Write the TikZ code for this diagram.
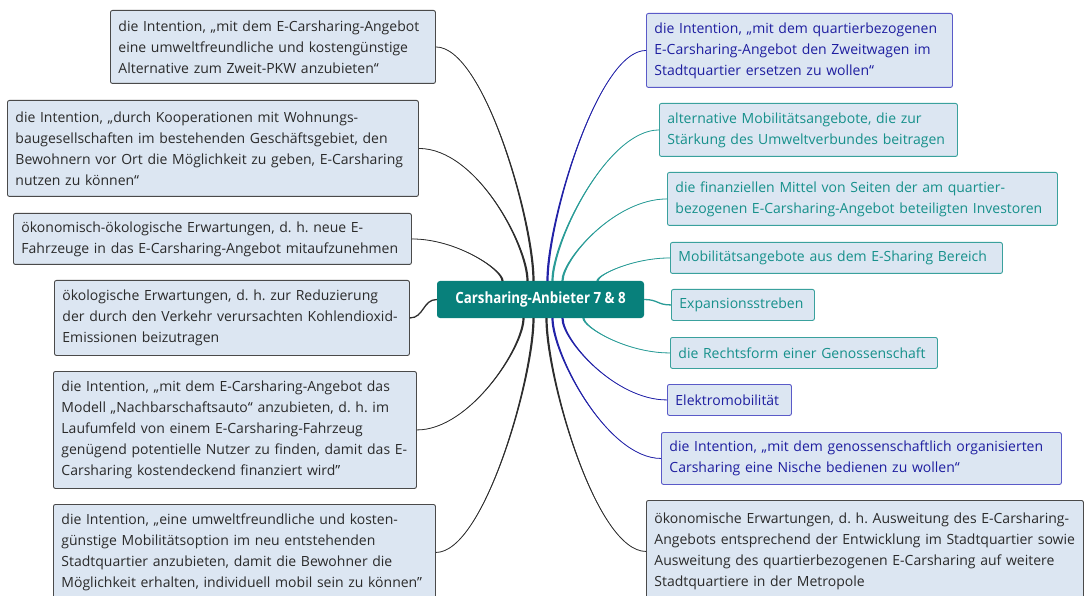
\documentclass[tikz,border=0pt]{standalone}
\usepackage{fontspec}
\usepackage{graphicx}
\setmainfont{Open Sans}
\frenchspacing
\hyphenpenalty=10000
\exhyphenpenalty=10000
\definecolor{boxfill}{HTML}{DCE6F2}
\definecolor{grayline}{HTML}{4A4A4A}
\definecolor{graytext}{HTML}{2A2A2A}
\definecolor{tealline}{HTML}{3AA19D}
\definecolor{tealtext}{HTML}{16908B}
\definecolor{blueline}{HTML}{5A5AC8}
\definecolor{bluetext}{HTML}{1E1EA0}
\definecolor{hubfill}{HTML}{08807B}
\definecolor{grayconn}{HTML}{2E2E2E}
\definecolor{blueconn}{HTML}{2323A8}
\definecolor{tealconn}{HTML}{2A9C97}
\tikzset{
  leaf/.style={draw, fill=boxfill, rounded corners=2pt, line width=0.9pt,
    anchor=north west, inner xsep=8pt, inner ysep=0pt, align=left,
    font=\fontsize{14}{21}\selectfont},
  grayleaf/.style={leaf, draw=grayline, text=graytext},
  tealleaf/.style={leaf, draw=tealline, text=tealtext},
  blueleaf/.style={leaf, draw=blueline, text=bluetext},
  hub/.style={fill=hubfill, rounded corners=3pt, text=white,
    minimum width=207pt, minimum height=37pt, inner sep=0pt,
    font=\fontsize{15.5}{18}\selectfont\bfseries},
  gconn/.style={draw=grayconn, line width=0.8pt},
  tconn/.style={draw=tealconn, line width=0.8pt},
  bconn/.style={draw=blueconn, line width=0.8pt},
  gconn fill/.style={fill=grayconn},
  tconn fill/.style={fill=tealconn},
  bconn fill/.style={fill=blueconn}
}
% box: left/top corner, width, height
\newcommand{\leafbox}[7]{%
  \node[#1, text width=#5pt-16pt, minimum height=#6pt] (#2) at (#3,#4) {#7};}
% tapered branch: style, leaf anchor, leaf-side control, hub-side control,
% hub anchor, horizontal offset along the hub edge
\newcommand{\branch}[6]{%
  \fill[#1 fill] (#2) .. controls +(#3) and +(#4) .. ([xshift=#6pt-1.1pt]#5)
    -- ([xshift=#6pt+1.1pt]#5) .. controls +(#4) and +(#3) .. (#2) -- cycle;
  \draw[#1] (#2) .. controls +(#3) and +(#4) .. ([xshift=#6pt]#5);}
\begin{document}
\begin{tikzpicture}[x=1pt,y=-1pt]
\useasboundingbox (0,0) rectangle (1085,596);

% central topic
\node[hub] (c) at (540.5,299.5) {\scalebox{0.86}[1]{Carsharing-Anbieter 7 \& 8}};

% left branches
\leafbox{grayleaf}{l1}{110}{10}{325}{73}{die Intention, „mit dem E-Carsharing-Angebot\\eine umweltfreundliche und kostengünstige\\Alternative zum Zweit-PKW anzubieten“}
\leafbox{grayleaf}{l2}{7}{100}{411}{96}{die Intention, „durch Kooperationen mit Wohnungs-\\baugesellschaften im bestehenden Geschäftsgebiet, den\\Bewohnern vor Ort die Möglichkeit zu geben, E-Carsharing\\nutzen zu können“}
\leafbox{grayleaf}{l3}{13}{213}{398}{51}{ökonomisch-ökologische Erwartungen, d. h. neue E-\\Fahrzeuge in das E-Carsharing-Angebot mitaufzunehmen}
\leafbox{grayleaf}{l4}{54}{280}{355}{75}{ökologische Erwartungen, d. h. zur Reduzierung\\der durch den Verkehr verursachten Kohlendioxid-\\Emissionen beizutragen}
\leafbox{grayleaf}{l5}{53}{371}{363}{117}{die Intention, „mit dem E-Carsharing-Angebot das\\Modell „Nachbarschaftsauto“ anzubieten, d. h. im\\Laufumfeld von einem E-Carsharing-Fahrzeug\\genügend potentielle Nutzer zu finden, damit das E-\\Carsharing kostendeckend finanziert wird"}
\leafbox{grayleaf}{l6}{53}{504}{382}{96}{die Intention, „eine umweltfreundliche und kosten-\\günstige Mobilitätsoption im neu entstehenden\\Stadtquartier anzubieten, damit die Bewohner die\\Möglichkeit erhalten, individuell mobil sein zu können"}

% right branches
\leafbox{blueleaf}{r1}{646}{13}{306}{74}{die Intention, „mit dem quartierbezogenen\\E-Carsharing-Angebot den Zweitwagen im\\Stadtquartier ersetzen zu wollen“}
\leafbox{tealleaf}{r2}{659}{103}{298}{53}{alternative Mobilitätsangebote, die zur\\Stärkung des Umweltverbundes beitragen}
\leafbox{tealleaf}{r3}{667}{172}{390}{53}{die finanziellen Mittel von Seiten der am quartier-\\bezogenen E-Carsharing-Angebot beteiligten Investoren}
\leafbox{tealleaf}{r4}{670}{242}{332}{31}{Mobilitätsangebote aus dem E-Sharing Bereich}
\leafbox{tealleaf}{r5}{671}{289}{143}{31}{Expansionsstreben}
\leafbox{tealleaf}{r6}{670}{337}{267}{31}{die Rechtsform einer Genossenschaft}
\leafbox{blueleaf}{r7}{667}{384}{124}{31}{Elektromobilität}
\leafbox{blueleaf}{r8}{661}{432}{400}{52}{die Intention, „mit dem genossenschaftlich organisierten\\Carsharing eine Nische bedienen zu wollen“}
\leafbox{grayleaf}{r9}{646}{500}{437}{102}{ökonomische Erwartungen, d. h. Ausweitung des E-Carsharing-\\Angebots entsprechend der Entwicklung im Stadtquartier sowie\\Ausweitung des quartierbezogenen E-Carsharing auf weitere\\Stadtquartiere in der Metropole}

% connectors, left side
\branch{gconn}{l1.east}{48,0}{0,-60}{c.north}{-7}
\branch{gconn}{l2.east}{58,0}{0,-35}{c.north}{-13}
\branch{gconn}{l3.east}{45,0}{0,-11}{c.north}{-38}
\draw[gconn, line width=1.3pt] (c.west) .. controls +(-14,0) and +(14,0) .. (l4.east);
\branch{gconn}{l5.east}{53,0}{0,29}{c.south}{-17}
\branch{gconn}{l6.east}{48,0}{0,60}{c.south}{-7}

% connectors, right side
\branch{bconn}{r1.west}{-48,0}{0,-60}{c.north}{7}
\branch{tconn}{r2.west}{-52,0}{0,-39}{c.north}{12}
\branch{tconn}{r3.west}{-53,0}{0,-21}{c.north}{22}
\branch{tconn}{r4.west}{-37,0}{0,-6}{c.north}{57}
\draw[tconn, line width=1.3pt] (c.east) .. controls +(14,0) and +(-14,0) .. (r5.west);
\branch{tconn}{r6.west}{-44,0}{0,9}{c.south}{43}
\branch{bconn}{r7.west}{-52,0}{0,22}{c.south}{22}
\branch{bconn}{r8.west}{-54,0}{0,36}{c.south}{12}
\branch{gconn}{r9.west}{-50,0}{0,60}{c.south}{6}
\end{tikzpicture}
\end{document}
